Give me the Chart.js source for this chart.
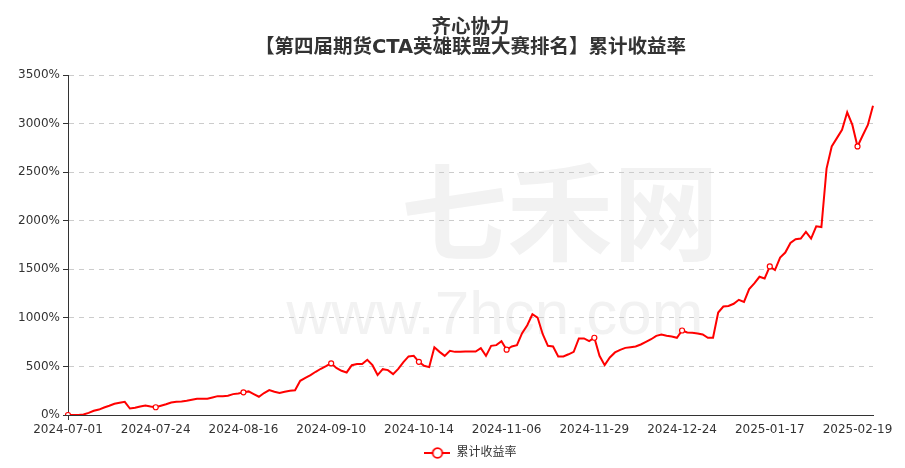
<!DOCTYPE html>
<html><head><meta charset="utf-8">
<script src="https://cdn.jsdelivr.net/npm/chart.js@4/dist/chart.umd.min.js"></script>
<style>html,body{margin:0;padding:0;background:#fff}#wrap{width:905px;height:468px}</style>
</head><body><div id="wrap"><canvas id="c" width="905" height="468"></canvas></div>
<script>
const titleLines = ['齐心协力', '【第四届期货CTA英雄联盟大赛排名】累计收益率'];
const seriesName = '累计收益率';
const watermarkTexts = ['七禾网', 'www.7hcn.com'];

const dates = [
'2024-07-01','2024-07-02','2024-07-03','2024-07-04','2024-07-05','2024-07-08','2024-07-09','2024-07-10','2024-07-11','2024-07-12',
'2024-07-15','2024-07-16','2024-07-17','2024-07-18','2024-07-19','2024-07-22','2024-07-23','2024-07-24','2024-07-25','2024-07-26',
'2024-07-29','2024-07-30','2024-07-31','2024-08-01','2024-08-02','2024-08-05','2024-08-06','2024-08-07','2024-08-08','2024-08-09',
'2024-08-12','2024-08-13','2024-08-14','2024-08-15','2024-08-16','2024-08-19','2024-08-20','2024-08-21','2024-08-22','2024-08-23',
'2024-08-26','2024-08-27','2024-08-28','2024-08-29','2024-08-30','2024-09-02','2024-09-03','2024-09-04','2024-09-05','2024-09-06',
'2024-09-09','2024-09-10','2024-09-11','2024-09-12','2024-09-13','2024-09-18','2024-09-19','2024-09-20','2024-09-23','2024-09-24',
'2024-09-25','2024-09-26','2024-09-27','2024-09-30','2024-10-08','2024-10-09','2024-10-10','2024-10-11','2024-10-14','2024-10-15',
'2024-10-16','2024-10-17','2024-10-18','2024-10-21','2024-10-22','2024-10-23','2024-10-24','2024-10-25','2024-10-28','2024-10-29',
'2024-10-30','2024-10-31','2024-11-01','2024-11-04','2024-11-05','2024-11-06','2024-11-07','2024-11-08','2024-11-11','2024-11-12',
'2024-11-13','2024-11-14','2024-11-15','2024-11-18','2024-11-19','2024-11-20','2024-11-21','2024-11-22','2024-11-25','2024-11-26',
'2024-11-27','2024-11-28','2024-11-29','2024-12-02','2024-12-03','2024-12-04','2024-12-05','2024-12-06','2024-12-09','2024-12-10',
'2024-12-11','2024-12-12','2024-12-13','2024-12-16','2024-12-17','2024-12-18','2024-12-19','2024-12-20','2024-12-23','2024-12-24',
'2024-12-25','2024-12-26','2024-12-27','2024-12-30','2024-12-31','2025-01-02','2025-01-03','2025-01-06','2025-01-07','2025-01-08',
'2025-01-09','2025-01-10','2025-01-13','2025-01-14','2025-01-15','2025-01-16','2025-01-17','2025-01-20','2025-01-21','2025-01-22',
'2025-01-23','2025-01-24','2025-01-27','2025-02-05','2025-02-06','2025-02-07','2025-02-10','2025-02-11','2025-02-12','2025-02-13',
'2025-02-14','2025-02-17','2025-02-18','2025-02-19','2025-02-20','2025-02-21','2025-02-24'
];

const returns = [
0,0,1,5,22,43,56,77,95,115,
126,136,67,74,88,98,88,80,95,111,
129,136,139,146,157,167,167,167,180,194,
194,198,215,222,233,243,216,188,226,257,
239,226,239,250,254,352,383,411,445,476,
503,532,485,455,438,513,524,524,568,513,
411,472,462,421,475,545,603,609,547,506,
493,697,650,609,661,650,650,654,654,654,
688,609,712,719,760,672,706,719,842,924,
1037,1003,832,712,706,603,603,625,650,788,
788,760,795,609,513,592,644,671,691,698,
706,726,753,780,815,829,815,808,795,870,
849,846,839,829,795,795,1055,1117,1123,1145,
1186,1164,1297,1355,1423,1406,1529,1492,1621,1672,
1771,1809,1816,1884,1816,1942,1935,2536,2765,2850,
2935,3116,2986,2765,2877,2986,3184
];

const yMin = 0, yMax = 3500, yStep = 500;
const labelEvery = 17;

const FONT = "'DejaVu Sans', 'Noto Sans CJK SC', sans-serif";
const RED = '#ff0000';
const AXIS = '#333333';

const icon = document.createElement('canvas');
icon.width = 26; icon.height = 14;
(function () {
  const g = icon.getContext('2d');
  g.strokeStyle = RED; g.lineWidth = 2;
  g.beginPath(); g.moveTo(0, 7); g.lineTo(26, 7); g.stroke();
  g.beginPath(); g.arc(13, 7, 4.8, 0, Math.PI * 2);
  g.fillStyle = '#fff'; g.fill(); g.lineWidth = 1.8; g.stroke();
})();

const watermark = {
  id: 'watermark',
  beforeDraw(chart) {
    const g = chart.ctx;
    g.save();
    g.fillStyle = '#f2f2f2';
    g.textAlign = 'center';
    g.textBaseline = 'middle';
    g.font = "bold 106px 'Noto Sans CJK SC', sans-serif";
    g.fillText(watermarkTexts[0], 560, 212);
    g.font = "62px 'Liberation Sans', Arial, sans-serif";
    g.textBaseline = 'alphabetic';
    g.fillText(watermarkTexts[1], 495, 334);
    g.restore();
  }
};

new Chart(document.getElementById('c'), {
  type: 'line',
  data: {
    labels: dates,
    datasets: [{
      label: seriesName,
      data: returns,
      borderColor: RED,
      backgroundColor: '#fff',
      borderWidth: 2,
      tension: 0,
      fill: false,
      pointRadius: ctx => (ctx.dataIndex % labelEvery === 0 ? 2.5 : 0),
      pointHoverRadius: 0,
      pointBackgroundColor: '#fff',
      pointBorderColor: RED,
      pointBorderWidth: 1.2
    }]
  },
  options: {
    responsive: false,
    devicePixelRatio: 1,
    animation: false,
    events: [],
    layout: { padding: { left: 0, right: 32, top: 0, bottom: -1 } },
    plugins: {
      title: {
        display: true,
        fullSize: false,
        text: titleLines,
        color: '#333',
        font: { family: FONT, size: 19.5, weight: 'bold', lineHeight: 1.0 },
        padding: { top: 18.5, bottom: 17.5 }
      },
      legend: {
        display: true,
        fullSize: false,
        position: 'bottom',
        labels: {
          usePointStyle: true,
          pointStyleWidth: 26,
          padding: 10,
          color: '#333',
          font: { family: FONT, size: 12 },
          generateLabels: () => [{
            text: seriesName, pointStyle: icon, fillStyle: '#fff',
            strokeStyle: RED, lineWidth: 0, hidden: false, datasetIndex: 0, fontColor: '#333'
          }]
        }
      },
      tooltip: { enabled: false }
    },
    scales: {
      x: {
        type: 'category',
        offset: false,
        border: { display: true, color: AXIS, width: 1 },
        grid: {
          display: true,
          drawOnChartArea: false,
          drawTicks: true,
          tickLength: 5,
          color: ctx => (ctx.index % labelEvery === 0 ? AXIS : 'rgba(0,0,0,0)'),
          tickColor: ctx => (ctx.index % labelEvery === 0 ? AXIS : 'rgba(0,0,0,0)')
        },
        ticks: {
          autoSkip: false,
          maxRotation: 0,
          minRotation: 0,
          padding: 3,
          color: '#333',
          font: { family: FONT, size: 12 },
          callback: (v, i) => (i % labelEvery === 0 ? dates[i] : null)
        },
        afterFit: s => { s.height = 22; }
      },
      y: {
        min: yMin,
        max: yMax,
        border: { display: true, color: AXIS, width: 1, dash: [5, 5] },
        grid: {
          color: '#cccccc',
          lineWidth: 1,
          drawTicks: true,
          tickLength: 5,
          tickColor: AXIS,
          tickBorderDash: []
        },
        ticks: {
          stepSize: yStep,
          padding: 3,
          color: '#333',
          font: { family: FONT, size: 12 },
          callback: v => v + '%'
        },
        afterFit: s => { s.width = 68; }
      }
    }
  },
  plugins: [watermark]
});
</script>
</body></html>
